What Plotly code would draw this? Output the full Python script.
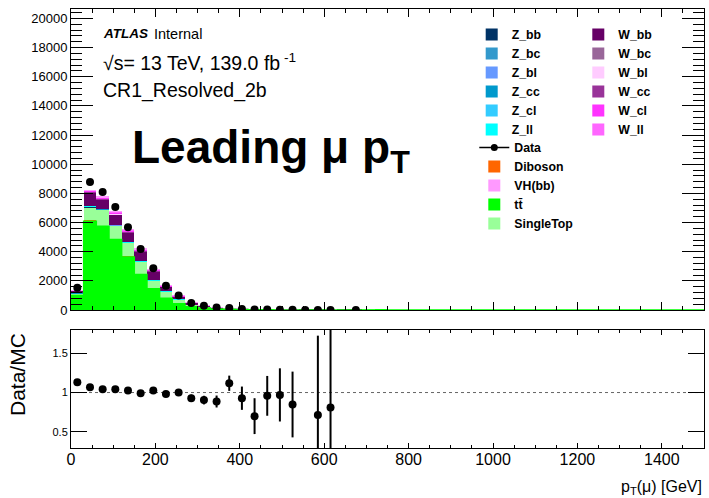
import numpy as np
import plotly.graph_objects as go

# ---------------- binning ----------------
BIN_WIDTH = 30
X_MIN, X_MAX = 0, 1500
edges = np.arange(X_MIN, X_MAX + BIN_WIDTH, BIN_WIDTH)
centers = edges[:-1] + BIN_WIDTH / 2

# ---------------- MC components (events per bin) ----------------
ttbar = [1000, 6090, 5740, 4830, 3640, 2430, 1450, 800, 430, 220, 135, 75, 50, 30, 20, 13, 8, 5, 3.5, 2.5,
         1.8, 1.2, 0.8, 0.6, 0.4, 0.3, 0.2, 0.2, 0.1, 0.1, 0.1, 0.05, 0.05, 0.05, 0.03, 0.03, 0.02, 0.02,
         0.01, 0.01, 0.01, 0, 0, 0, 0, 0, 0, 0, 0, 0]
diboson = [30, 60, 50, 45, 40, 30, 25, 20, 15, 10, 7, 5, 3.5, 2.5, 1.8, 1.2, 0.9, 0.6, 0.4, 0.3, 0.2, 0.15, 0.1, 0.08, 0.05]
singletop = [120, 900, 1100, 930, 920, 840, 525, 440, 260, 140, 90, 50, 33, 20, 13, 9, 6, 4, 2.5, 1.8, 1.2, 0.9, 0.6, 0.4, 0.3]
z_bb = [8, 20, 18, 15, 14, 12, 10, 7, 5, 3, 2, 1.2, 0.8, 0.5, 0.35, 0.25, 0.15, 0.1, 0.07, 0.05, 0.03, 0.02, 0.02, 0.01, 0.01]
z_bc = [3, 8, 7, 6, 5, 4, 3, 2, 1.5, 0.9, 0.6, 0.4, 0.25, 0.15, 0.1, 0.07, 0.05, 0.03, 0.02, 0.01, 0.01, 0.01, 0, 0, 0]
z_bl = [4, 10, 9, 8, 7, 6, 5, 3.5, 2.5, 1.3, 0.9, 0.6, 0.4, 0.25, 0.15, 0.1, 0.07, 0.05, 0.03, 0.02, 0.01, 0.01, 0, 0, 0]
z_cc = [6, 15, 13, 11, 10, 9, 7, 5, 3.5, 1.8, 1.2, 0.8, 0.5, 0.3, 0.2, 0.14, 0.1, 0.06, 0.04, 0.03, 0.02, 0.01, 0.01, 0, 0]
z_cl = [10, 17, 15, 13, 14, 12, 9, 7, 5, 2, 2.5, 1.3, 0.8, 0.55, 0.4, 0.25, 0.17, 0.1, 0.07, 0.05, 0.03, 0.02, 0.01, 0.01, 0]
z_ll = [9, 10, 8, 7, 10, 7, 6, 5.5, 2.5, 1, 0.8, 0.7, 0.25, 0.25, 0.3, 0.2, 0.1, 0.06, 0.05, 0.04, 0.02, 0.01, 0.01, 0, 0]
w_bb = [130, 900, 620, 700, 650, 640, 580, 300, 200, 105, 68, 42, 26, 17, 11, 7, 4.5, 3, 2, 1.3, 0.9, 0.6, 0.4, 0.3, 0.2]
w_bc = [3, 20, 18, 20, 20, 19, 18, 10, 7, 3, 2, 1.2, 0.7, 0.45, 0.3, 0.2, 0.13, 0.08, 0.05, 0.04, 0.03, 0.02, 0.01, 0.01, 0]
w_bl = [2, 12, 11, 12, 12, 11, 11, 6, 4, 2, 1.3, 0.8, 0.5, 0.3, 0.2, 0.12, 0.08, 0.05, 0.03, 0.02, 0.02, 0.01, 0.01, 0, 0]
w_cc = [6, 40, 38, 44, 42, 40, 38, 22, 15, 7, 4.4, 2.6, 1.6, 1, 0.6, 0.4, 0.25, 0.15, 0.1, 0.07, 0.05, 0.03, 0.02, 0.01, 0.01]
w_cl = [10, 70, 66, 75, 74, 70, 66, 38, 26, 12, 7.7, 4.5, 2.8, 1.8, 1.1, 0.7, 0.45, 0.28, 0.18, 0.12, 0.08, 0.05, 0.03, 0.02, 0.01]
w_ll = [6, 40, 38, 44, 42, 40, 38, 22, 15, 7, 4.4, 2.6, 1.6, 1, 0.6, 0.4, 0.25, 0.15, 0.1, 0.07, 0.05, 0.03, 0.02, 0.01, 0.01]
vh_bb = [3, 18, 19, 20, 20, 20, 19, 12, 8, 4, 2.2, 1.3, 0.8, 0.45, 0.2, 0.18, 0.1, 0.06, 0.04, 0.03, 0.02, 0.01, 0.01, 0, 0]

# ---------------- data ----------------
data_counts = [1520, 8780, 8100, 7060, 5680, 4190, 2870, 1670, 1000, 480, 300, 170, 138, 71, 35, 32, 21, 12,
               0, 4, 3, None, 0]

# ---------------- ratio panel ----------------
ratio_vals = [1.13, 1.067, 1.042, 1.042, 1.025, 0.99, 1.025, 0.98, 1.0, 0.929, 0.904, 0.886, 1.118, 0.928,
              0.70, 0.958, 0.97, 0.848, None, 0.713, 0.81]
ratio_errs = [0.02, 0.012, 0.012, 0.013, 0.015, 0.017, 0.02, 0.025, 0.033, 0.045, 0.055, 0.076, 0.097, 0.148,
              0.228, 0.253, 0.338, 0.418, None, 1.01, 1.6]
UNITY = 1.0

# ---------------- styling ----------------
stack = [
    ("tt\u0304", ttbar, "#00ff00", "legend3", 4),
    ("Diboson", diboson, "#ff6600", "legend3", 2),
    ("SingleTop", singletop, "#99ff99", "legend3", 5),
    ("Z_bb", z_bb, "#003366", "legend", 1),
    ("Z_bc", z_bc, "#3399cc", "legend", 2),
    ("Z_bl", z_bl, "#6699ff", "legend", 3),
    ("Z_cc", z_cc, "#0099cc", "legend", 4),
    ("Z_cl", z_cl, "#33ccff", "legend", 5),
    ("Z_ll", z_ll, "#00ffff", "legend", 6),
    ("W_bb", w_bb, "#660066", "legend2", 1),
    ("W_bc", w_bc, "#996699", "legend2", 2),
    ("W_bl", w_bl, "#ffccff", "legend2", 3),
    ("W_cc", w_cc, "#993399", "legend2", 4),
    ("W_cl", w_cl, "#ff33ff", "legend2", 5),
    ("W_ll", w_ll, "#ff66ff", "legend2", 6),
    ("VH(bb)", vh_bb, "#ff99ff", "legend3", 3),
]

FONT = "Liberation Sans, Arial, sans-serif"
W, H = 709, 498
ML, MR, MT, MB = 71, 5, 9, 50
PW, PH = W - ML - MR, H - MT - MB


def px(xp, yp):
    return (xp - ML) / PW, 1 - (yp - MT) / PH


fig = go.Figure()

for name, vals, color, leg, rank in stack:
    fig.add_trace(go.Bar(
        x=centers[:len(vals)], y=vals, width=BIN_WIDTH, name=name,
        marker=dict(color=color, line=dict(width=0)),
        legend=leg, legendrank=rank, xaxis="x", yaxis="y",
    ))

# ttbar outline (visible as green line along zero)
fig.add_trace(go.Scatter(
    x=edges, y=list(ttbar) + [ttbar[-1]], mode="lines", line=dict(shape="hv", color="#00ff00", width=1.5),
    showlegend=False, hoverinfo="skip", xaxis="x", yaxis="y",
))

# data points
fig.add_trace(go.Scatter(
    x=centers[:len(data_counts)], y=data_counts, mode="markers",
    marker=dict(color="black", size=8), showlegend=False, xaxis="x", yaxis="y",
))
# legend entry for data
fig.add_trace(go.Scatter(
    x=[None], y=[None], mode="lines+markers", name="Data",
    line=dict(color="black", width=1.5), marker=dict(color="black", size=7),
    legend="legend3", legendrank=1, xaxis="x", yaxis="y",
))

# ratio
fig.add_trace(go.Scatter(
    x=centers[:len(ratio_vals)], y=ratio_vals, mode="markers",
    marker=dict(color="black", size=8),
    error_y=dict(type="data", array=ratio_errs, color="black", thickness=2, width=0),
    showlegend=False, xaxis="x2", yaxis="y2",
))

fig.add_shape(type="line", xref="x2 domain", x0=0, x1=1, yref="y2", y0=UNITY, y1=UNITY,
              line=dict(color="#666666", width=1, dash="dot"), layer="below")

main_bottom = px(0, 310)[1]
ratio_top = px(0, 330)[1]

axis_common = dict(showline=True, linecolor="black", linewidth=1, mirror="ticks", ticks="inside",
                   tickcolor="black", showgrid=False, zeroline=False)

legend_common = dict(xanchor="left", yanchor="top", font=dict(size=12.3, weight="bold"),
                     bgcolor="rgba(0,0,0,0)", itemwidth=30, tracegroupgap=0, traceorder="normal")

fig.update_layout(
    width=W, height=H, margin=dict(l=ML, r=MR, t=MT, b=MB),
    paper_bgcolor="white", plot_bgcolor="white",
    barmode="stack", font=dict(family=FONT, color="black"),
    xaxis=dict(**axis_common, anchor="y", range=[X_MIN, X_MAX], dtick=200, ticklen=8, showticklabels=False,
               minor=dict(ticks="inside", dtick=50, ticklen=4, tickcolor="black")),
    yaxis=dict(**axis_common, anchor="x", domain=[main_bottom, 1], range=[0, 20650], dtick=2000, ticklen=22,
               tickformat="d", tickfont=dict(size=13),
               minor=dict(ticks="inside", dtick=400, ticklen=11, tickcolor="black")),
    xaxis2=dict(**axis_common, anchor="y2", range=[X_MIN, X_MAX], dtick=200, ticklen=5,
                tickfont=dict(size=16), ticklabelstandoff=-3,
                minor=dict(ticks="inside", dtick=50, ticklen=3, tickcolor="black")),
    yaxis2=dict(**axis_common, anchor="x2", domain=[0, ratio_top], range=[0.295, 1.795],
                tickvals=[0.5, 1, 1.5], ticklen=16, tickfont=dict(size=11)),
    legend=dict(x=px(471.7, 0)[0], y=px(0, 20)[1], **legend_common),
    legend2=dict(x=px(578.3, 0)[0], y=px(0, 20)[1], **legend_common),
    legend3=dict(x=px(474.3, 0)[0], y=px(0, 133)[1], **legend_common),
)

ann = []


def add_text(text, xp, yp, size, xanchor="left", yanchor="middle", weight=None, style=None, **kw):
    x, y = px(xp, yp)
    font = dict(size=size, family=FONT, color="black")
    if weight:
        font["weight"] = weight
    if style:
        font["style"] = style
    ann.append(dict(text=text, x=x, y=y, xref="paper", yref="paper", xanchor=xanchor, yanchor=yanchor,
                    showarrow=False, font=font, **kw))


add_text("ATLAS", 101, 33.5, 13.5, weight="bold", style="italic")
add_text("Internal", 151.7, 33.5, 14.5)
add_text("\u221as= 13 TeV, 139.0 fb<sup> -1</sup>", 101, 62, 19.5)
add_text("CR1_Resolved_2b", 101, 90, 19.5)
add_text("Leading \u03bc p<sub>T</sub>", 130, 150, 46, weight="bold")
add_text("Data/MC", 17, 374, 21, xanchor="center", textangle=-90)
add_text("p<sub>T</sub>(\u03bc) [GeV]", 704, 487, 16, xanchor="right")

fig.update_layout(annotations=ann)

fig.write_html("out.html")
